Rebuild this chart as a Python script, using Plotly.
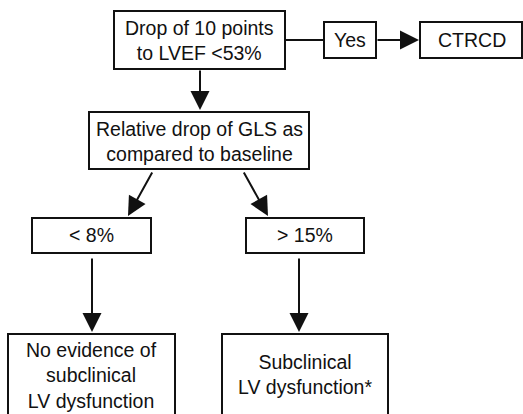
import plotly.graph_objects as go

# ---- flowchart content (data) ----
node_ids = ["drop", "yes", "ctrcd", "gls", "lt8", "gt15", "none", "sub"]
node_labels = [
    "Drop of 10 points<br>to LVEF <53%",
    "Yes",
    "CTRCD",
    "Relative drop of GLS as<br>compared to baseline",
    "< 8%",
    "> 15%",
    "No evidence of<br>subclinical<br>LV dysfunction",
    "Subclinical<br>LV dysfunction*",
]
edges_from = ["drop", "yes", "drop", "gls", "gls", "lt8", "gt15"]
edges_to = ["yes", "ctrcd", "gls", "lt8", "gt15", "none", "sub"]
edge_arrow = [False, True, True, True, True, True, True]

# ---- layout geometry (pixel space, y down) ----
boxes = {
    "drop": (114, 11, 285, 69),
    "yes": (324, 22, 376, 58),
    "ctrcd": (420, 22, 522, 58),
    "gls": (89, 112, 309, 169),
    "lt8": (32, 218, 151, 253),
    "gt15": (246, 218, 364, 253),
    "none": (8, 334, 175, 430),
    "sub": (222, 334, 388, 430),
}
text_pos = {
    "drop": (199.5, 40),
    "yes": (350, 39.5),
    "ctrcd": (472, 39.5),
    "gls": (199, 141),
    "lt8": (91.5, 235),
    "gt15": (305, 235),
    "none": (91.5, 375),
    "sub": (305, 374),
}
edge_geom = [
    ((285, 40), (324, 40)),
    ((376, 40), (419, 40)),
    ((200, 69), (200, 110)),
    ((153, 171), (128, 216)),
    ((243, 171), (268, 216)),
    ((92, 257), (92, 332)),
    ((299, 257), (299, 332)),
]

W, H = 523, 414
FONT = dict(family="Arial, Liberation Sans, sans-serif", size=19.5, color="#111111")

fig = go.Figure()
fig.add_trace(go.Scatter(x=[0, W], y=[0, H], mode="markers",
                         marker=dict(opacity=0), hoverinfo="skip", showlegend=False))

for nid, label in zip(node_ids, node_labels):
    x0, y0, x1, y1 = boxes[nid]
    fig.add_shape(type="rect", x0=x0, y0=y0, x1=x1, y1=y1, xref="x", yref="y",
                  line=dict(color="#111111", width=2), fillcolor="white", layer="below")
    tx, ty = text_pos[nid]
    fig.add_annotation(x=tx, y=ty, xref="x", yref="y", text=label, showarrow=False,
                       font=FONT, align="center")

for (f, t, arr), ((sx, sy), (ex, ey)) in zip(zip(edges_from, edges_to, edge_arrow), edge_geom):
    if arr:
        fig.add_annotation(x=ex, y=ey, ax=sx, ay=sy, xref="x", yref="y", axref="x", ayref="y",
                           text="", showarrow=True, arrowhead=2, arrowsize=1.9,
                           arrowwidth=2, arrowcolor="#111111", standoff=0, startstandoff=0)
    else:
        fig.add_shape(type="line", x0=sx, y0=sy, x1=ex, y1=ey, xref="x", yref="y",
                      line=dict(color="#111111", width=2))

fig.update_layout(
    width=W, height=H, margin=dict(l=0, r=0, t=0, b=0),
    paper_bgcolor="white", plot_bgcolor="white", showlegend=False,
    xaxis=dict(range=[0, W], visible=False, fixedrange=True),
    yaxis=dict(range=[H, 0], visible=False, fixedrange=True),
)
fig.write_html("out.html", config={"displayModeBar": False},
               post_script="document.body.style.margin='0';")
